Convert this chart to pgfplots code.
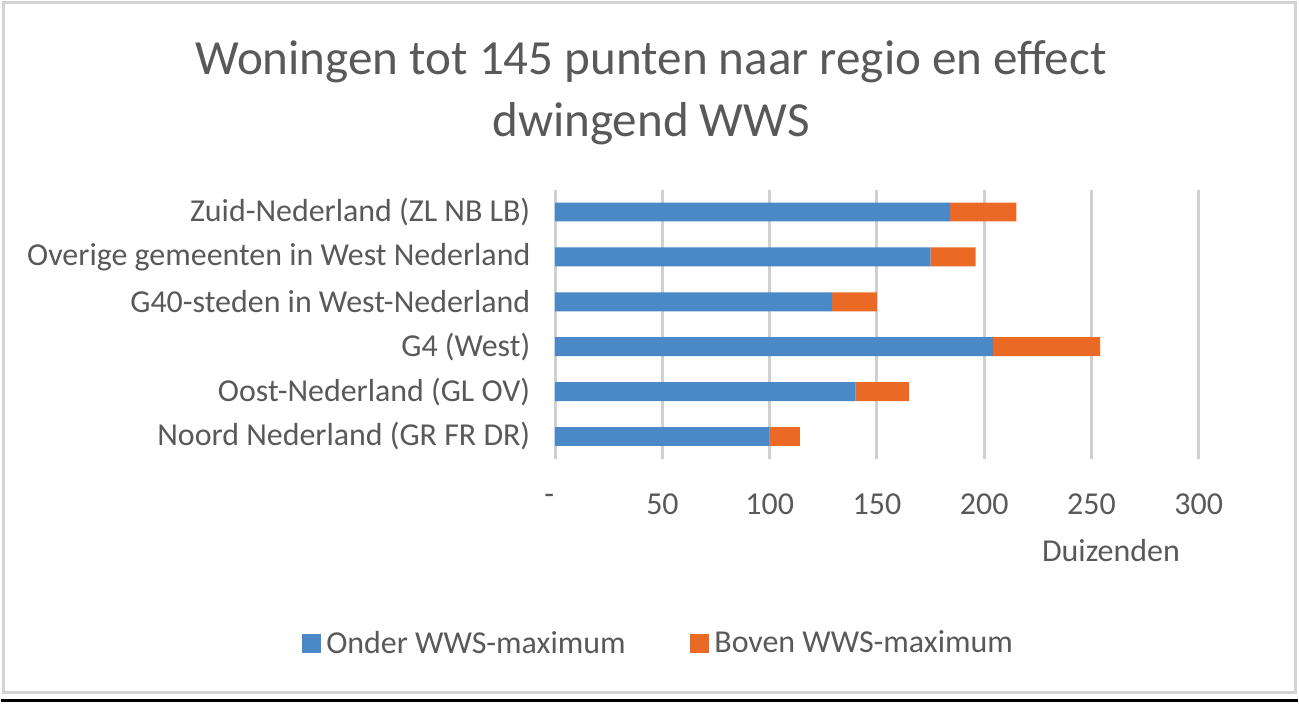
\documentclass[border=0pt]{standalone}
\usepackage{fontspec}
\setmainfont{Carlito}
\usepackage{pgfplots}
\pgfplotsset{compat=1.18}
\definecolor{txt}{HTML}{595959}
\definecolor{gridc}{HTML}{D0D0D0}
\definecolor{bblue}{HTML}{4A88C7}
\definecolor{borange}{HTML}{EA6A25}
\definecolor{frame}{HTML}{D3D3D3}

\begin{document}
\begin{tikzpicture}
  % canvas: 1 px of the reference = 0.5pt, origin bottom left
  \fill[white] (0,0) rectangle (649.5pt,352.5pt);
  \draw[frame, line width=1.5pt] (1.25pt,351.25pt) rectangle (648.25pt,5.5pt);
  \draw[black, line width=1.5pt] (0,1.5pt) -- (649.5pt,1.5pt);

  \node[text=txt, align=center, font=\fontsize{24.6}{31.5}\selectfont]
    at (325.5pt,306pt) {Woningen tot 145 punten naar regio en effect\\dwingend WWS};

\begin{axis}[
    at={(277.5pt,122.5pt)}, anchor=south west,
    scale only axis,
    width=322.5pt, height=135pt,
    xbar stacked,
    bar width=9.5pt,
    xmin=0, xmax=300,
    ymin=-0.5, ymax=5.5,
    axis line style={draw=none},
    xtick={0,50,100,150,200,250,300},
    xticklabels={\hspace*{-6pt}\raisebox{-2.5pt}{-},50,100,150,200,250,300},
    ytick={0,1,2,3,4,5},
    yticklabels={Noord Nederland (GR FR DR),Oost-Nederland (GL OV),G4 (West),G40-steden in West-Nederland,Overige gemeenten in West Nederland,Zuid-Nederland (ZL NB LB)},
    tick style={draw=none},
    xmajorgrids,
    grid style={gridc, line width=1.5pt},
    ticklabel style={text=txt, font=\fontsize{16}{19}\selectfont},
    xticklabel style={yshift=-14pt},
    yticklabel style={xshift=-9pt},
    legend style={at={(0.163,-0.685)}, anchor=center, draw=none,
      legend columns=2, font=\fontsize{16}{19}\selectfont, text=txt,
      nodes={inner xsep=2.5pt},
      /tikz/every even column/.append style={column sep=30pt}},
    legend image code/.code={\fill[#1] (0,-4.75pt) rectangle (9.5pt,4.75pt);},
    clip=false,
  ]
  \addplot[fill=bblue, draw=none] coordinates {
    (100,0) (140,1) (204,2) (129,3) (175,4) (184,5)
  };
  \addplot[fill=borange, draw=none] coordinates {
    (14,0) (25,1) (50,2) (21,3) (21,4) (31,5)
  };
  \legend{Onder WWS-maximum, Boven WWS-maximum}
\end{axis}

  \node[text=txt, font=\fontsize{16}{19}\selectfont] at (556pt,76.5pt) {Duizenden};
\end{tikzpicture}
\end{document}
